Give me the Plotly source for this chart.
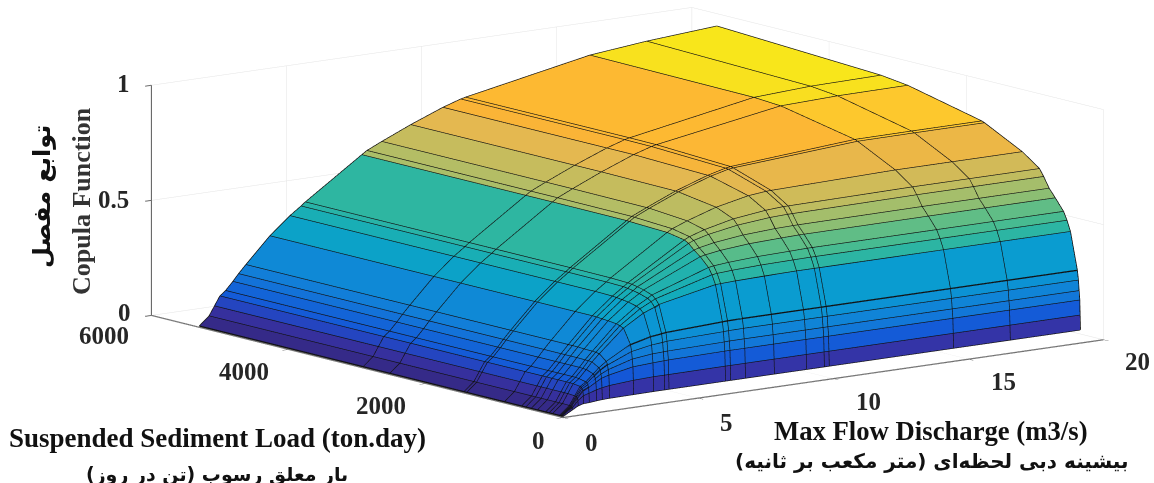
import plotly.graph_objects as go

discharge = [0.05,0.41,0.61,0.81,1.02,1.29,1.5,1.77,2.66,3.4,3.81,3.97,6.06,6.25,6.8,7.87,9.06,9.72,9.9,14.5,16.6,19.2]
sediment = [25,30,35,45,55,70,170,220,270,390,480,560,620,870,1420,1460,2540,2930,5320]
tick_x = [0,5,10,15,20]
tick_y = [0,2000,4000,6000]
tick_z = [0,0.5,1]

copula_rows = [
 [.002,.026,.039,.046,.047,.050,.052,.053,.054,.055,.055,.055,.055,.055,.055,.055,.055,.055,.055,.055,.055,.055],
 [.003,.035,.061,.080,.087,.097,.103,.108,.116,.119,.119,.119,.12,.12,.12,.12,.12,.12,.12,.12,.12,.12],
 [.003,.038,.071,.099,.111,.130,.144,.153,.174,.179,.181,.182,.185,.185,.185,.185,.185,.185,.185,.185,.185,.185],
 [.003,.038,.074,.106,.120,.144,.161,.176,.207,.217,.219,.220,.224,.225,.225,.225,.225,.225,.225,.225,.225,.225],
 [.003,.039,.076,.112,.127,.155,.176,.195,.239,.255,.259,.262,.268,.269,.27,.27,.27,.27,.27,.27,.27,.27],
 [.003,.039,.077,.115,.131,.161,.184,.207,.266,.288,.294,.297,.308,.309,.31,.31,.31,.31,.31,.31,.31,.31],
 [.003,.04,.08,.119,.138,.173,.202,.233,.329,.382,.401,.410,.461,.462,.465,.468,.47,.47,.47,.47,.47,.47],
 [.003,.04,.08,.12,.14,.174,.204,.236,.336,.397,.421,.431,.500,.503,.507,.512,.514,.515,.515,.515,.515,.515],
 [.003,.04,.08,.12,.14,.175,.204,.237,.341,.405,.432,.444,.528,.532,.538,.545,.548,.55,.55,.55,.55,.55],
 [.003,.04,.08,.12,.14,.175,.205,.238,.345,.414,.444,.457,.566,.571,.581,.592,.597,.599,.599,.60,.60,.60],
 [.003,.04,.08,.12,.14,.175,.205,.24,.347,.418,.450,.464,.588,.595,.608,.623,.631,.633,.633,.635,.635,.635],
 [.003,.04,.08,.12,.14,.175,.205,.24,.349,.421,.454,.469,.611,.621,.638,.660,.673,.676,.676,.68,.68,.68],
 [.003,.04,.08,.12,.14,.175,.205,.24,.35,.423,.457,.471,.622,.633,.654,.683,.700,.705,.705,.71,.71,.71],
 [.003,.04,.08,.12,.14,.175,.205,.24,.35,.425,.459,.474,.636,.649,.674,.715,.745,.753,.754,.765,.765,.765],
 [.003,.04,.08,.12,.14,.175,.205,.24,.35,.425,.46,.475,.643,.658,.688,.741,.789,.808,.811,.849,.85,.85],
 [.003,.04,.08,.12,.14,.175,.205,.24,.35,.425,.46,.475,.644,.659,.688,.742,.790,.810,.814,.854,.855,.855],
 [.003,.04,.08,.12,.14,.175,.205,.24,.35,.425,.46,.475,.645,.66,.69,.745,.80,.824,.829,.920,.928,.93],
 [.003,.04,.08,.12,.14,.175,.205,.24,.35,.425,.46,.475,.645,.66,.69,.745,.80,.825,.83,.928,.941,.945],
 [.003,.04,.08,.12,.14,.175,.205,.24,.35,.425,.46,.475,.645,.66,.69,.745,.80,.825,.83,.935,.96,.982],
]

band_colors = [[0.0,"rgb(53,42,135)"],[0.05,"rgb(54,50,165)"],[0.1,"rgb(20,85,215)"],[0.2,"rgb(18,125,216)"],
               [0.3,"rgb(10,155,210)"],[0.4,"rgb(15,170,190)"],[0.47,"rgb(44,181,163)"],[0.515,"rgb(70,187,145)"],
               [0.55,"rgb(95,189,135)"],[0.6,"rgb(140,190,115)"],[0.645,"rgb(170,190,105)"],[0.7,"rgb(205,187,90)"],
               [0.745,"rgb(228,184,80)"],[0.8,"rgb(250,180,55)"],[0.83,"rgb(253,185,50)"],[0.855,"rgb(253,200,45)"],
               [0.93,"rgb(248,225,30)"],[1.0,"rgb(249,251,14)"]]

nx, ny = len(discharge), len(sediment)
vx, vy, vz = [], [], []
for r, yv in enumerate(sediment):
    for c, xv in enumerate(discharge):
        vx.append(xv); vy.append(yv); vz.append(copula_rows[r][c])
ti, tj, tk, cell = [], [], [], []
for r in range(ny - 1):
    for c in range(nx - 1):
        a = r * nx + c
        b = a + 1
        d = a + nx
        e = d + 1
        ti += [a, a]; tj += [b, e]; tk += [e, d]
        cell += [copula_rows[r][c]] * 2

fig = go.Figure()
fig.add_trace(go.Mesh3d(x=vx, y=vy, z=vz, i=ti, j=tj, k=tk, intensity=cell, intensitymode="cell",
                        colorscale=band_colors, cmin=0, cmax=1, showscale=False, flatshading=True,
                        lighting=dict(ambient=1, diffuse=0, specular=0, roughness=1, fresnel=0),
                        hoverinfo="skip"))
lx, ly, lz = [], [], []
for r in range(ny):
    lx += discharge + [None]
    ly += [sediment[r]] * nx + [None]
    lz += copula_rows[r] + [None]
for c in range(nx):
    lx += [discharge[c]] * ny + [None]
    ly += sediment + [None]
    lz += [copula_rows[r][c] for r in range(ny)] + [None]
fig.add_trace(go.Scatter3d(x=lx, y=ly, z=lz, mode="lines", line=dict(color="#111111", width=2.6),
                           hoverinfo="skip", showlegend=False))

axis = dict(showbackground=False, showgrid=True, gridcolor="#e4e4e4", gridwidth=1, showline=True,
            linecolor="#6a6a6a", linewidth=2.5, ticks="outside", tickcolor="#6a6a6a", ticklen=8, tickwidth=2,
            showticklabels=False, zeroline=False, title="", showspikes=False)

label_font = dict(family="Liberation Serif", size=25, color="#262626", weight=700)
scene_notes = []
for v, sx, sy in zip(tick_x, [28,28,35,35,34], [-25,-24,-23,-22,-22]):
    scene_notes.append(dict(x=v, y=0, z=0, text=str(v), showarrow=False, xshift=sx, yshift=sy, font=label_font))
for v, sx, sy in zip(tick_y, [-25,-45,-45,-48], [-23,-22,-22,-20]):
    scene_notes.append(dict(x=0, y=v, z=0, text=str(v), showarrow=False, xshift=sx, yshift=sy, font=label_font))
for v, sx, sy in zip(tick_z, [-27,-38,-28], [3,1,2]):
    scene_notes.append(dict(x=0, y=6000, z=v, text=str(v), showarrow=False, xshift=sx, yshift=sy, font=label_font))

dist = 8
zoom = 3.197
fig.update_layout(
    width=1154, height=483, margin=dict(l=0, r=0, t=0, b=0), paper_bgcolor="white", showlegend=False,
    scene=dict(
        domain=dict(x=[0.0876, 1], y=[0.12, 1]),
        xaxis=dict(axis, range=[0, 20], tickvals=tick_x),
        yaxis=dict(axis, range=[0, 6000], tickvals=tick_y),
        zaxis=dict(axis, range=[0, 1], tickvals=tick_z),
        aspectmode="manual", aspectratio=dict(x=zoom, y=zoom, z=0.345*zoom),
        camera=dict(eye=dict(x=-0.595*dist, y=-0.781*dist, z=0.189*dist),
                    center=dict(x=0, y=0, z=0), up=dict(x=0, y=0, z=1),
                    projection=dict(type="orthographic")),
        annotations=scene_notes,
    ),
)

def note(text, px, py, size, family, color="#111111", angle=0):
    fig.add_annotation(text=text, xref="paper", yref="paper", x=px/1154, y=1-py/483, showarrow=False,
                       xanchor="center", yanchor="middle", textangle=angle,
                       font=dict(family=family, size=size, color=color, weight=700))

note("Suspended Sediment Load (ton.day)", 217, 438, 27, "Liberation Serif")
note("بار معلق رسوب (تن در روز)", 217, 474, 19, "DejaVu Sans")
note("Max Flow Discharge (m3/s)", 931, 431, 26.7, "Liberation Serif")
note("بیشینه دبی لحظه‌ای (متر مکعب بر ثانیه)", 932, 461, 20, "DejaVu Sans")
note("Copula Function", 81, 201, 26, "Liberation Serif", color="#333333", angle=-90)
note("توابع مفصل", 42, 197, 24, "DejaVu Sans", angle=-90)

fig.write_html("out.html", config=dict(displayModeBar=False), post_script="document.body.style.margin='0';")
